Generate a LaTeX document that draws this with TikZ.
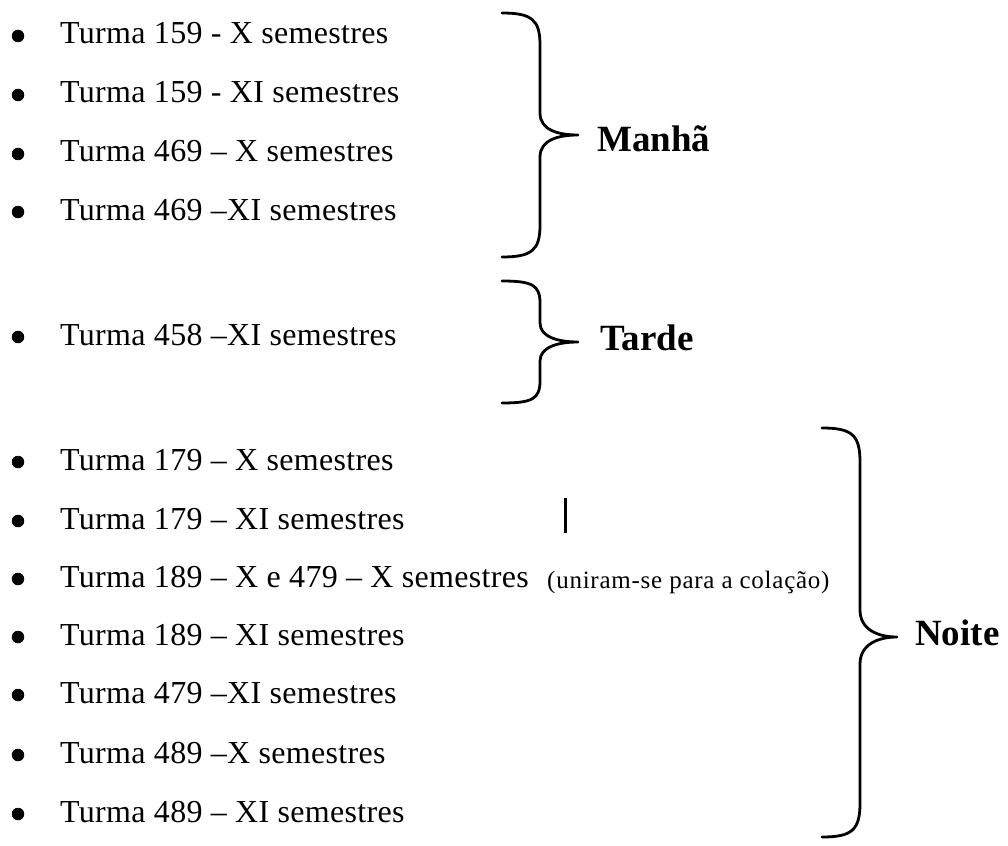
\documentclass[tikz,border=0pt]{standalone}
\usepackage{fontspec}
\setmainfont{Liberation Serif}
\begin{document}
\begin{tikzpicture}[x=1pt,y=-1pt,
  item/.style={anchor=base west,inner sep=0pt,font=\fontsize{32}{36}\selectfont\addfontfeatures{LetterSpace=1}},
  lbl/.style={anchor=base west,inner sep=0pt,font=\fontsize{37}{40}\selectfont\bfseries},
  note/.style={anchor=base west,inner sep=0pt,font=\fontsize{25}{28}\selectfont\addfontfeatures{LetterSpace=3}},
  dot/.style={circle,fill=black,inner sep=0pt,minimum size=12.5pt},
  bracestyle/.style={line width=2.8pt,line cap=round,line join=round}]
\useasboundingbox (0,0) rectangle (1008,845);
% items
\foreach \n/\y/\t in {
  a/44/{Turma 159 - X semestres},
  b/103/{Turma 159 - XI semestres},
  c/162/{Turma 469 – X semestres},
  d/220/{Turma 469 –XI semestres},
  e/345/{Turma 458 –XI semestres},
  f/470/{Turma 179 – X semestres},
  g/529/{Turma 179 – XI semestres},
  h/587/{Turma 189 – X e 479 – X semestres},
  i/645/{Turma 189 – XI semestres},
  j/703/{Turma 479 –XI semestres},
  k/763/{Turma 489 –X semestres},
  l/822/{Turma 489 – XI semestres}}{
  \node[item] (t\n) at (60,\y) {\t};
  \node[dot] (b\n) at (18,\y-8) {};
}
\node[note] (nota) at (547,588) {(uniram-se para a colação)};
\draw[line width=3pt] (565,498) -- (565,533);
% Manha brace
\coordinate (m0) at (502,13); \coordinate (m1) at (540,45); \coordinate (m2) at (540,113);
\coordinate (mt) at (578,135); \coordinate (m3) at (540,157); \coordinate (m4) at (540,225);
\coordinate (m5) at (502,257);
\draw[bracestyle] (m0) .. controls +(30,0) and +(0,-25) .. (m1) -- (m2)
  .. controls +(0,17) and +(-20,0) .. (mt) .. controls +(-20,0) and +(0,-17) .. (m3) -- (m4)
  .. controls +(0,25) and +(30,0) .. (m5);
\node[lbl] (manha) at (597,152) {Manhã};
% Tarde brace
\coordinate (r0) at (502,281); \coordinate (r1) at (540,303); \coordinate (r2) at (540,323);
\coordinate (rt) at (578,342); \coordinate (r3) at (540,361); \coordinate (r4) at (540,381);
\coordinate (r5) at (502,403);
\draw[bracestyle] (r0) .. controls +(30,0) and +(0,-18) .. (r1) -- (r2)
  .. controls +(0,14) and +(-20,0) .. (rt) .. controls +(-20,0) and +(0,-14) .. (r3) -- (r4)
  .. controls +(0,18) and +(30,0) .. (r5);
\node[lbl] (tarde) at (600,350) {Tarde};
% Noite brace
\coordinate (n0) at (822,428); \coordinate (n1) at (860,462); \coordinate (n2) at (860,610);
\coordinate (nt) at (897,637); \coordinate (n3) at (860,664); \coordinate (n4) at (860,803);
\coordinate (n5) at (822,837);
\draw[bracestyle] (n0) .. controls +(30,0) and +(0,-27) .. (n1) -- (n2)
  .. controls +(0,19) and +(-20,0) .. (nt) .. controls +(-20,0) and +(0,-19) .. (n3) -- (n4)
  .. controls +(0,27) and +(30,0) .. (n5);
\node[lbl] (noite) at (915,645) {Noite};
\end{tikzpicture}
\end{document}
